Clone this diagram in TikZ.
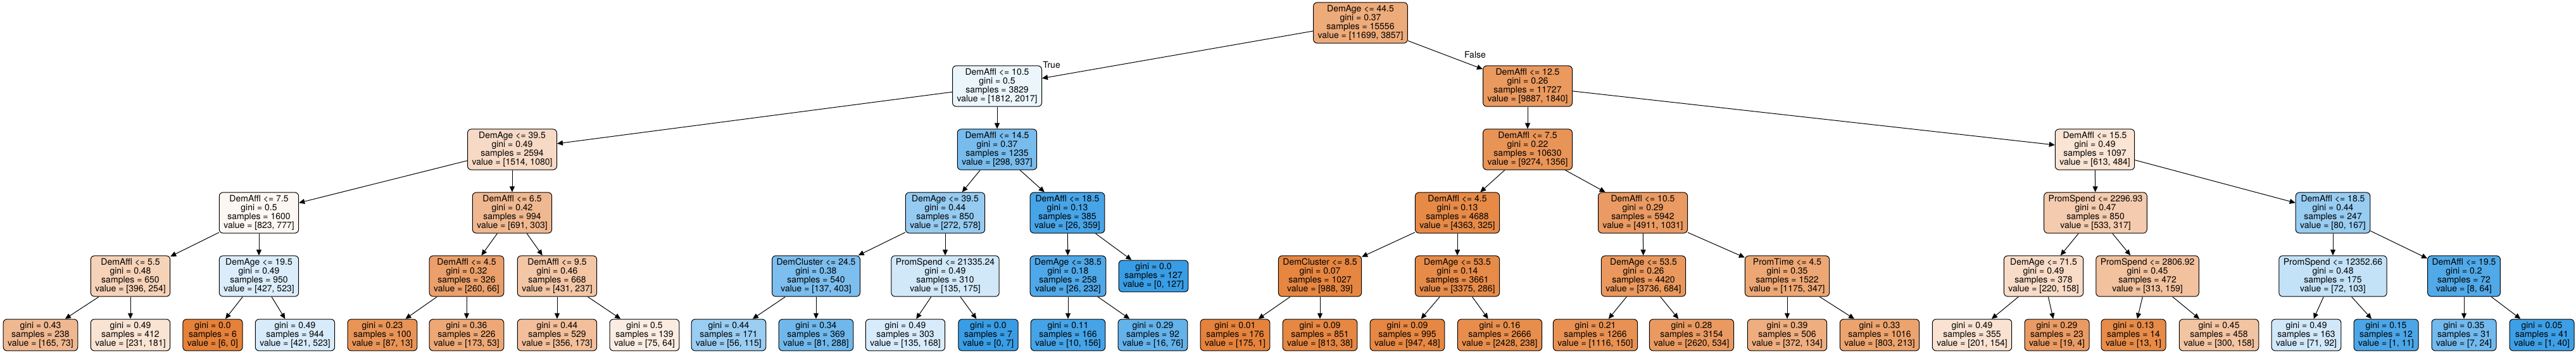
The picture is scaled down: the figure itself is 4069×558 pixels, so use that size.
\documentclass[tikz,border=0pt]{standalone}
\usepackage{fontspec}
\setmainfont{TeX Gyre Heros}
\usetikzlibrary{arrows.meta}

\definecolor{cls0}{HTML}{E58139}
\definecolor{cls1}{HTML}{399DE5}

\begin{document}
\begin{tikzpicture}[
  x=1pt, y=-1pt,
  font=\fontsize{14pt}{14pt}\selectfont,
  split/.style={
    draw,
    line width=1pt,
    rounded corners=6pt,
    align=center,
    inner xsep=7pt,
    inner ysep=4.5pt,
    fill=#1
    },
  leaf/.style={split=#1},
  link/.style={
    line width=1pt,
    -{Triangle[length=9pt,width=8pt]}
    }
]
\useasboundingbox (0,0) rectangle (4069,558);

% level 0
\node[split=cls0!67] (root) at (2149,36)
  {DemAge <= 44.5\\gini = 0.37\\samples = 15556\\value = [11699, 3857]};

% level 1
\node[split=cls1!10] (l) at (1575,136)
  {DemAffl <= 10.5\\gini = 0.5\\samples = 3829\\value = [1812, 2017]};
\node[split=cls0!81] (r) at (2413,136)
  {DemAffl <= 12.5\\gini = 0.26\\samples = 11727\\value = [9887, 1840]};

% level 2
\node[split=cls0!29] (ll) at (809,236)
  {DemAge <= 39.5\\gini = 0.49\\samples = 2594\\value = [1514, 1080]};
\node[split=cls1!68] (lr) at (1575,236)
  {DemAffl <= 14.5\\gini = 0.37\\samples = 1235\\value = [298, 937]};
\node[split=cls0!85] (rl) at (2413,236)
  {DemAffl <= 7.5\\gini = 0.22\\samples = 10630\\value = [9274, 1356]};
\node[split=cls0!21] (rr) at (3309,236)
  {DemAffl <= 15.5\\gini = 0.49\\samples = 1097\\value = [613, 484]};

% level 3
\node[split=cls0!6] (lll) at (409,336)
  {DemAffl <= 7.5\\gini = 0.5\\samples = 1600\\value = [823, 777]};
\node[split=cls0!56] (llr) at (809,336)
  {DemAffl <= 6.5\\gini = 0.42\\samples = 994\\value = [691, 303]};
\node[split=cls1!53] (lrl) at (1493,336)
  {DemAge <= 39.5\\gini = 0.44\\samples = 850\\value = [272, 578]};
\node[split=cls1!93] (lrr) at (1686,336)
  {DemAffl <= 18.5\\gini = 0.13\\samples = 385\\value = [26, 359]};
\node[split=cls0!93] (rll) at (2302,336)
  {DemAffl <= 4.5\\gini = 0.13\\samples = 4688\\value = [4363, 325]};
\node[split=cls0!79] (rlr) at (2595,336)
  {DemAffl <= 10.5\\gini = 0.29\\samples = 5942\\value = [4911, 1031]};
\node[split=cls0!41] (rrl) at (3310,336)
  {PromSpend <= 2296.93\\gini = 0.47\\samples = 850\\value = [533, 317]};
\node[split=cls1!52] (rrr) at (3685,336)
  {DemAffl <= 18.5\\gini = 0.44\\samples = 247\\value = [80, 167]};

% level 4
\node[split=cls0!36] (llll) at (206,436)
  {DemAffl <= 5.5\\gini = 0.48\\samples = 650\\value = [396, 254]};
\node[split=cls1!18] (lllr) at (409,436)
  {DemAge <= 19.5\\gini = 0.49\\samples = 950\\value = [427, 523]};
\node[split=cls0!75] (llrl) at (737,436)
  {DemAffl <= 4.5\\gini = 0.32\\samples = 326\\value = [260, 66]};
\node[split=cls0!45] (llrr) at (880,436)
  {DemAffl <= 9.5\\gini = 0.46\\samples = 668\\value = [431, 237]};
\node[split=cls1!66] (lrll) at (1289,436)
  {DemCluster <= 24.5\\gini = 0.38\\samples = 540\\value = [137, 403]};
\node[split=cls1!23] (lrlr) at (1493,436)
  {PromSpend <= 21335.24\\gini = 0.49\\samples = 310\\value = [135, 175]};
\node[split=cls1!89] (lrrl) at (1687,436)
  {DemAge <= 38.5\\gini = 0.18\\samples = 258\\value = [26, 232]};
\node[leaf=cls1!100] (lrrr) at (1822,436)
  {gini = 0.0\\samples = 127\\value = [0, 127]};
\node[split=cls0!96] (rlll) at (2085,436)
  {DemCluster <= 8.5\\gini = 0.07\\samples = 1027\\value = [988, 39]};
\node[split=cls0!92] (rllr) at (2302,436)
  {DemAge <= 53.5\\gini = 0.14\\samples = 3661\\value = [3375, 286]};
\node[split=cls0!82] (rlrl) at (2596,436)
  {DemAge <= 53.5\\gini = 0.26\\samples = 4420\\value = [3736, 684]};
\node[split=cls0!70] (rlrr) at (2823,436)
  {PromTime <= 4.5\\gini = 0.35\\samples = 1522\\value = [1175, 347]};
\node[split=cls0!28] (rrll) at (3228,436)
  {DemAge <= 71.5\\gini = 0.49\\samples = 378\\value = [220, 158]};
\node[split=cls0!49] (rrlr) at (3392,436)
  {PromSpend <= 2806.92\\gini = 0.45\\samples = 472\\value = [313, 159]};
\node[split=cls1!30] (rrrl) at (3685,436)
  {PromSpend <= 12352.66\\gini = 0.48\\samples = 175\\value = [72, 103]};
\node[split=cls1!88] (rrrr) at (3892,436)
  {DemAffl <= 19.5\\gini = 0.2\\samples = 72\\value = [8, 64]};

% level 5 (leaves)
\node[leaf=cls0!56] (lllll) at (64,529) {gini = 0.43\\samples = 238\\value = [165, 73]};
\node[leaf=cls0!22] (llllr) at (206,529) {gini = 0.49\\samples = 412\\value = [231, 181]};
\node[leaf=cls0!100] (lllrl) at (336,529) {gini = 0.0\\samples = 6\\value = [6, 0]};
\node[leaf=cls1!20] (lllrr) at (466,529) {gini = 0.49\\samples = 944\\value = [421, 523]};
\node[leaf=cls0!85] (llrll) at (604,529) {gini = 0.23\\samples = 100\\value = [87, 13]};
\node[leaf=cls0!69] (llrlr) at (737,529) {gini = 0.36\\samples = 226\\value = [173, 53]};
\node[leaf=cls0!51] (llrrl) at (880,529) {gini = 0.44\\samples = 529\\value = [356, 173]};
\node[leaf=cls0!15] (llrrr) at (1018,529) {gini = 0.5\\samples = 139\\value = [75, 64]};
\node[leaf=cls1!51] (lrlll) at (1151,529) {gini = 0.44\\samples = 171\\value = [56, 115]};
\node[leaf=cls1!72] (lrllr) at (1289,529) {gini = 0.34\\samples = 369\\value = [81, 288]};
\node[leaf=cls1!20] (lrlrl) at (1430,529) {gini = 0.49\\samples = 303\\value = [135, 168]};
\node[leaf=cls1!100] (lrlrr) at (1561,529) {gini = 0.0\\samples = 7\\value = [0, 7]};
\node[leaf=cls1!94] (lrrll) at (1687,529) {gini = 0.11\\samples = 166\\value = [10, 156]};
\node[leaf=cls1!79] (lrrlr) at (1821,529) {gini = 0.29\\samples = 92\\value = [16, 76]};
\node[leaf=cls0!99] (rllll) at (1951,529) {gini = 0.01\\samples = 176\\value = [175, 1]};
\node[leaf=cls0!95] (rlllr) at (2085,529) {gini = 0.09\\samples = 851\\value = [813, 38]};
\node[leaf=cls0!95] (rllrl) at (2223,529) {gini = 0.09\\samples = 995\\value = [947, 48]};
\node[leaf=cls0!90] (rllrr) at (2369,529) {gini = 0.16\\samples = 2666\\value = [2428, 238]};
\node[leaf=cls0!87] (rlrll) at (2520,529) {gini = 0.21\\samples = 1266\\value = [1116, 150]};
\node[leaf=cls0!80] (rlrlr) at (2672,529) {gini = 0.28\\samples = 3154\\value = [2620, 534]};
\node[leaf=cls0!64] (rlrrl) at (2823,529) {gini = 0.39\\samples = 506\\value = [372, 134]};
\node[leaf=cls0!73] (rlrrr) at (2969,529) {gini = 0.33\\samples = 1016\\value = [803, 213]};
\node[leaf=cls0!23] (rrlll) at (3115,529) {gini = 0.49\\samples = 355\\value = [201, 154]};
\node[leaf=cls0!79] (rrllr) at (3249,529) {gini = 0.29\\samples = 23\\value = [19, 4]};
\node[leaf=cls0!92] (rrlrl) at (3370,529) {gini = 0.13\\samples = 14\\value = [13, 1]};
\node[leaf=cls0!47] (rrlrr) at (3505,529) {gini = 0.45\\samples = 458\\value = [300, 158]};
\node[leaf=cls1!23] (rrrll) at (3643,529) {gini = 0.49\\samples = 163\\value = [71, 92]};
\node[leaf=cls1!91] (rrrlr) at (3769,529) {gini = 0.15\\samples = 12\\value = [1, 11]};
\node[leaf=cls1!71] (rrrrl) at (3892,529) {gini = 0.35\\samples = 31\\value = [7, 24]};
\node[leaf=cls1!98] (rrrrr) at (4015,529) {gini = 0.05\\samples = 41\\value = [1, 40]};

% branch labels
\node (lbltrue) at (1661,102) {True};
\node (lblfalse) at (2330,86) {False};

% connectors
\foreach \p/\c in {root/l, root/r,
    l/ll, l/lr, r/rl, r/rr,
    ll/lll, ll/llr, lr/lrl, lr/lrr, rl/rll, rl/rlr, rr/rrl, rr/rrr,
    lll/llll, lll/lllr, llr/llrl, llr/llrr, lrl/lrll, lrl/lrlr,
    lrr/lrrl, lrr/lrrr, rll/rlll, rll/rllr, rlr/rlrl, rlr/rlrr,
    rrl/rrll, rrl/rrlr, rrr/rrrl, rrr/rrrr,
    llll/lllll, llll/llllr, lllr/lllrl, lllr/lllrr,
    llrl/llrll, llrl/llrlr, llrr/llrrl, llrr/llrrr,
    lrll/lrlll, lrll/lrllr, lrlr/lrlrl, lrlr/lrlrr,
    lrrl/lrrll, lrrl/lrrlr, rlll/rllll, rlll/rlllr,
    rllr/rllrl, rllr/rllrr, rlrl/rlrll, rlrl/rlrlr,
    rlrr/rlrrl, rlrr/rlrrr, rrll/rrlll, rrll/rrllr,
    rrlr/rrlrl, rrlr/rrlrr, rrrl/rrrll, rrrl/rrrlr,
    rrrr/rrrrl, rrrr/rrrrr}
  \draw[link] (\p) -- (\c);

\end{tikzpicture}
\end{document}
